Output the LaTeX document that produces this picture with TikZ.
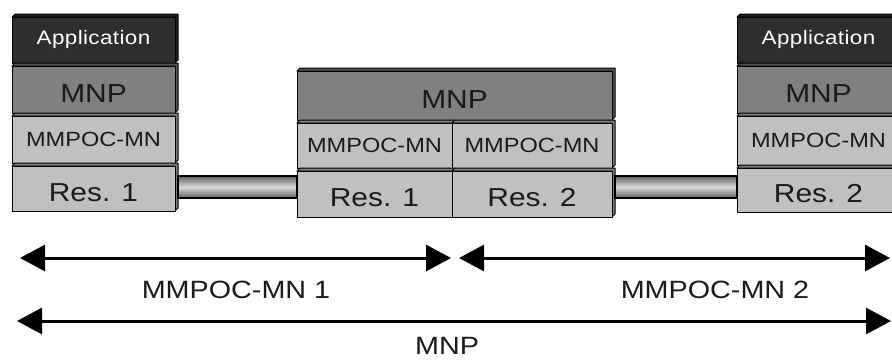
\documentclass[tikz,border=0pt]{standalone}
\usepackage{fontspec}
\setmainfont{Liberation Sans}[FakeStretch=1.15]
\usetikzlibrary{arrows.meta,calc}
\definecolor{appfill}{HTML}{2E2E2E}
\definecolor{mnpfill}{HTML}{808080}
\definecolor{lightfill}{HTML}{C0C0C0}
\definecolor{txt}{HTML}{1A1A1A}
\newcommand\fsz[1]{\fontsize{#1}{#1}\selectfont}
% name, x0, y0, x1, y1, fill, text style, text
\newcommand\layerbox[8]{%
  \filldraw[sideface, fill=#6!65!black] (#2,#3+3) -- (#2+3,#3) -- (#4,#3) -- (#4,#5-3) -- (#4-3,#5) -- (#4-3,#3+3) -- cycle;
  \node[layer, fill=#6, #7, minimum width={(#4-#2-3)*1pt}, minimum height={(#5-#3-3)*1pt}, anchor=north west] (#1) at (#2,#3+3) {#8};
}
\begin{document}
\begin{tikzpicture}[x=1pt,y=-1pt,
  layer/.style={draw=black, line width=1pt, inner sep=0pt, outer sep=0pt, align=center, text depth=0pt},
  sideface/.style={draw=black, line width=1pt, line join=round},
  apptext/.style={text=white, font=\fsz{19.5}\addfontfeature{LetterSpace=2}, text height=9pt},
  bigtext/.style={text=txt, font=\fsz{26}, text height=25.5pt},
  midtext/.style={text=txt, font=\fsz{20.5}},
  pipe/.style={draw=black, line width=1.2pt, top color=gray!75!black, bottom color=gray!75!black, middle color=gray!30},
  dimarrow/.style={line width=3pt, {Triangle[length=25pt,width=26pt]}-{Triangle[length=25pt,width=26pt]}},
  dimlabel/.style={text=txt, font=\fsz{25}, anchor=base, inner sep=0pt}]
\useasboundingbox (0,0) rectangle (892,360);
\clip (0,0) rectangle (892,360);
% left stack
\layerbox{lapp}{12}{14}{178}{63}{appfill}{apptext}{Application}
\layerbox{lmnp}{12}{63}{178}{113}{mnpfill}{bigtext}{MNP}
\layerbox{lmm}{12}{113}{178}{163}{lightfill}{midtext}{MMPOC-MN}
\layerbox{lres}{12}{163}{178}{211}{lightfill}{bigtext}{Res. 1}
% middle stack
\layerbox{mmnp}{297}{68}{615}{120}{mnpfill}{bigtext}{MNP}
\layerbox{mmm1}{297}{120}{455}{168}{lightfill}{midtext}{MMPOC-MN}
\layerbox{mmm2}{452}{120}{615}{168}{lightfill}{midtext}{MMPOC-MN}
\layerbox{mres1}{297}{168}{455}{217}{lightfill}{bigtext}{Res. 1}
\layerbox{mres2}{452}{168}{615}{217}{lightfill}{bigtext}{Res. 2}
% right stack
\layerbox{rapp}{737}{14}{903}{63}{appfill}{apptext}{Application}
\layerbox{rmnp}{737}{63}{903}{113}{mnpfill}{bigtext}{MNP}
\layerbox{rmm}{737}{113}{903}{165}{lightfill}{midtext}{MMPOC-MN}
\layerbox{rres}{737}{165}{903}{212}{lightfill}{bigtext}{Res. 2}
% pipes
\path[pipe] let \p1=(lres.east), \p2=(mres1.west) in (\x1+3pt,-176pt) rectangle (\x2,-198pt);
\path[pipe] let \p1=(mres2.east), \p2=(rres.west) in (\x1+3pt,-176pt) rectangle (\x2,-198pt);
% dimension arrows
\coordinate (a1l) at (20,258);
\coordinate (a1r) at (451,258);
\coordinate (a2l) at (459,258);
\coordinate (a2r) at (890,258);
\coordinate (b1l) at (17,321);
\coordinate (b1r) at (891,321);
\draw[dimarrow] (a1l) -- (a1r);
\draw[dimarrow] (a2l) -- (a2r);
\draw[dimarrow] (b1l) -- (b1r);
\node[dimlabel] (l1) at (236,298) {MMPOC-MN 1};
\node[dimlabel] (l2) at (715,298) {MMPOC-MN 2};
\node[dimlabel] (l3) at (447,354) {MNP};
\end{tikzpicture}
\end{document}
